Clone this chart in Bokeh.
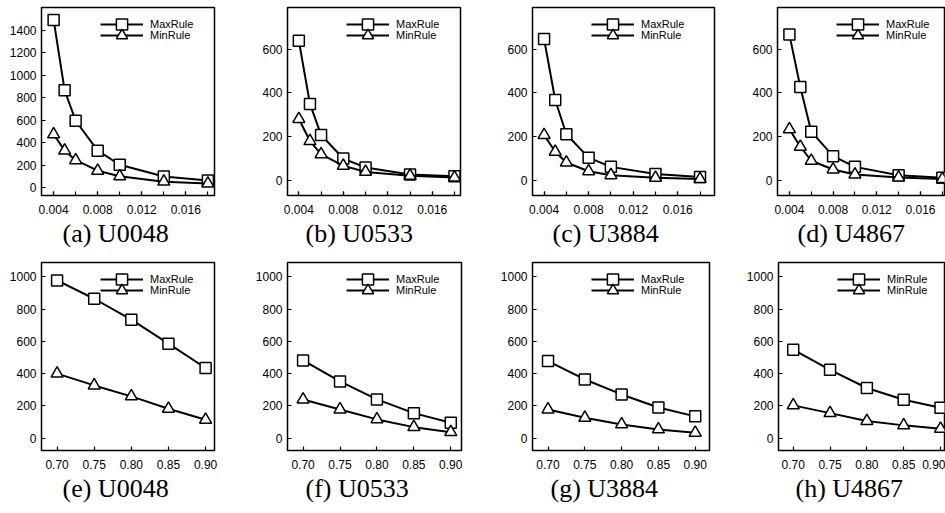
from bokeh.plotting import figure
from bokeh.layouts import column, row
from bokeh.models import Range1d, FixedTicker, PrintfTickFormatter, Legend, LegendItem
from bokeh.embed import file_html
from bokeh.resources import INLINE

# ---------------- data ----------------
x_top = [0.004, 0.005, 0.006, 0.008, 0.010, 0.014, 0.018]
x_bot = [0.70, 0.75, 0.80, 0.85, 0.90]

a_max = [1490, 865, 595, 330, 205, 100, 65]
a_min = [475, 330, 245, 152, 102, 55, 38]
b_max = [638, 349, 207, 99, 58, 26, 18]
b_min = [280, 179, 119, 66, 38, 20, 12]
c_max = [646, 367, 210, 103, 61, 28, 15]
c_min = [207, 130, 81, 41, 23, 11, 5]
d_max = [666, 426, 222, 110, 61, 23, 11]
d_min = [233, 153, 89, 49, 26, 12, 5]

e_max = [979, 865, 735, 586, 435]
e_min = [400, 327, 259, 182, 114]
f_max = [482, 352, 240, 155, 95]
f_min = [240, 178, 116, 68, 37]
g_max = [478, 364, 271, 190, 135]
g_min = [178, 126, 85, 54, 33]
h_max = [549, 424, 311, 238, 188]
h_min = [203, 155, 106, 79, 58]

captions = ["(a) U0048", "(b) U0533", "(c) U3884", "(d) U4867",
            "(e) U0048", "(f) U0533", "(g) U3884", "(h) U4867"]
legend_std = ["MaxRule", "MinRule"]
legend_h = ["MinRule", "MinRule"]

xt_top_major = [0.004, 0.008, 0.012, 0.016]
xt_top_minor = [0.004, 0.006, 0.008, 0.010, 0.012, 0.014, 0.016, 0.018]
xt_bot_major = [0.70, 0.75, 0.80, 0.85, 0.90]
yt_a = [0, 200, 400, 600, 800, 1000, 1200, 1400]
yt_bcd = [0, 200, 400, 600]
yt_bot = [0, 200, 400, 600, 800, 1000]

# ---------------- layout ----------------
# (min_border_left, frame_width, min_border_right, title offset)
cols_top = [(41, 173, 8, 21), (65, 173, 8, 18), (64, 182, 8, 20), (55, 167, 1, 20)]
cols_bot = [(41, 173, 8, 21), (65, 174, 7, 18), (64, 177, 13, 18), (56, 166, 1, 17)]
xr_top = [(0.0029, 0.0186), (0.00298, 0.01854), (0.00296, 0.0193), (0.00291, 0.0182)]
xr_bot = [(0.679, 0.912), (0.6789, 0.9145), (0.6789, 0.9194), (0.68, 0.9054)]
yr_top = [(-68, 1600), (-70, 790), (-70, 790), (-70, 790)]
yr_bot = [(-77, 1090)] * 4

FH = 188
LEG_GH = 28


def add_legend(p, label, renderers, center_from_top):
    leg = Legend(items=[LegendItem(label=label, renderers=renderers)],
                 location=(59, FH - (center_from_top - LEG_GH // 2) - LEG_GH))
    leg.border_line_color = None
    leg.background_fill_alpha = 0
    leg.padding = 0
    leg.margin = 0
    leg.spacing = 0
    leg.glyph_width = 43
    leg.glyph_height = LEG_GH
    leg.label_height = LEG_GH
    leg.label_standoff = 7
    leg.label_text_font = "Liberation Sans"
    leg.label_text_font_size = "11px"
    leg.label_text_color = "black"
    p.add_layout(leg)


def panel(x, ymax, ymin, labels, caption, xr, yr, xmaj, xmin, xfmt, yt, col, top, bottom):
    bl, fw, br, toff = col
    p = figure(frame_width=fw, frame_height=FH,
               min_border_left=bl, min_border_right=br,
               min_border_top=top, min_border_bottom=bottom,
               x_range=Range1d(*xr), y_range=Range1d(*yr),
               output_backend="svg", toolbar_location=None,
               title=caption, title_location="below")
    p.grid.visible = False
    p.outline_line_color = "black"
    p.outline_line_width = 1.5
    p.outline_line_alpha = 1.0
    p.background_fill_color = "white"
    p.border_fill_color = "white"

    p.title.align = "left"
    p.title.offset = toff
    p.title.standoff = 0
    p.title.text_font = "Liberation Serif"
    p.title.text_font_size = "26px"
    p.title.text_font_style = "normal"
    p.title.text_color = "black"

    p.xaxis.ticker = FixedTicker(ticks=xmaj, minor_ticks=xmin)
    p.xaxis.formatter = PrintfTickFormatter(format=xfmt)
    p.yaxis.ticker = FixedTicker(ticks=yt, minor_ticks=[])
    p.yaxis.formatter = PrintfTickFormatter(format="%d")
    for ax in (p.xaxis[0], p.yaxis[0]):
        ax.axis_line_color = None
        ax.major_tick_in = 4
        ax.major_tick_out = 0
        ax.minor_tick_in = 4
        ax.minor_tick_out = 0
        ax.major_tick_line_color = "black"
        ax.minor_tick_line_color = "black"
        ax.major_tick_line_width = 1.2
        ax.minor_tick_line_width = 1.2
        ax.major_label_text_font = "Liberation Sans"
        ax.major_label_text_font_size = "12px"
        ax.major_label_text_color = "black"
    p.xaxis.major_label_standoff = 9
    p.yaxis.major_label_standoff = 5

    l1 = p.line(x, ymax, line_color="black", line_width=2)
    s1 = p.scatter(x, ymax, marker="square", size=11, fill_color="white",
                   line_color="black", line_width=1.5)
    l2 = p.line(x, ymin, line_color="black", line_width=2)
    s2 = p.scatter(x, ymin, marker="triangle", size=12, fill_color="white",
                   line_color="black", line_width=1.5)

    add_legend(p, labels[0], [l1, s1], 17)
    add_legend(p, labels[1], [l2, s2], 28)
    return p


top_series = [(a_max, a_min), (b_max, b_min), (c_max, c_min), (d_max, d_min)]
bot_series = [(e_max, e_min), (f_max, f_min), (g_max, g_min), (h_max, h_min)]
top_yt = [yt_a, yt_bcd, yt_bcd, yt_bcd]

top_figs = []
for i in range(4):
    top_figs.append(panel(x_top, top_series[i][0], top_series[i][1], legend_std,
                          captions[i], xr_top[i], yr_top[i], xt_top_major, xt_top_minor,
                          "%.3f", top_yt[i], cols_top[i], 7, 66))
bot_figs = []
for i in range(4):
    labels = legend_h if i == 3 else legend_std
    bot_figs.append(panel(x_bot, bot_series[i][0], bot_series[i][1], labels,
                          captions[4 + i], xr_bot[i], yr_bot[i], xt_bot_major, [],
                          "%.2f", yt_bot, cols_bot[i], 1, 55))

layout = column(row(*top_figs, spacing=0), row(*bot_figs, spacing=0), spacing=0)
open("out.html", "w").write(file_html(layout, INLINE))
